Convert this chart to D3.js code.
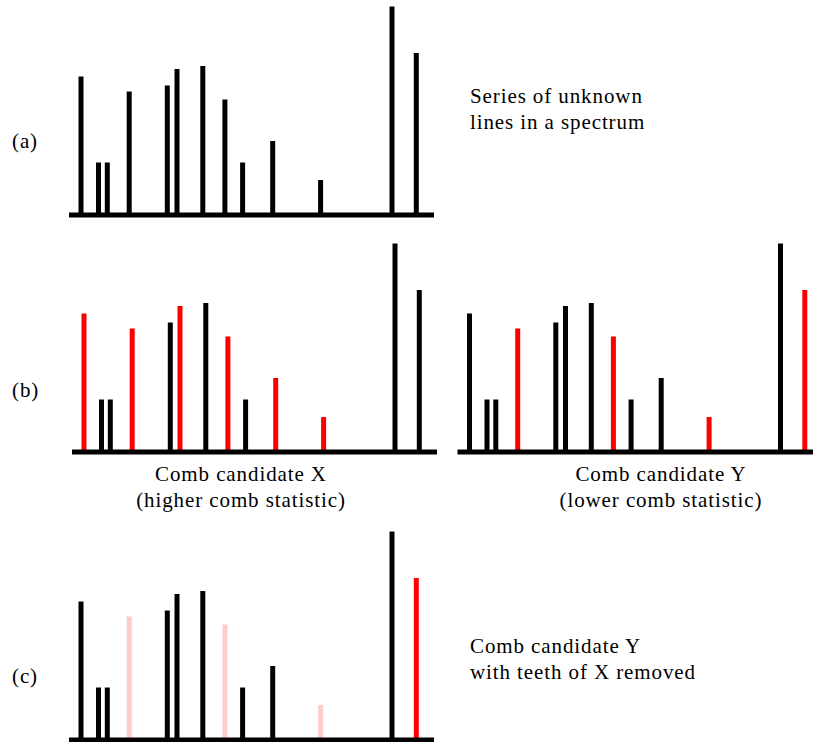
<!DOCTYPE html>
<html>
<head>
<meta charset="utf-8">
<script src="https://cdn.jsdelivr.net/npm/d3@7"></script>
<style>
  body { margin: 0; background: #fff; }
  svg text { font-size: 21px; letter-spacing: 0.9px; fill: #000; }
</style>
</head>
<body>
<div id="chart"></div>
<script>
// line positions along the spectrum (arbitrary units) and their heights
var linePos    = [12, 29.5, 38.3, 60.2, 98.3, 108, 133.8, 155.9, 173.6, 203.7, 251.6, 323, 347.3];
var lineHeight = [136, 50, 50, 121, 127, 143.5, 146.5, 113, 50, 71.5, 32.5, 206, 159.5];

// teeth of the two comb candidates (indices into the lines above)
var combX = [0, 3, 5, 7, 9, 10];
var combY = [3, 7, 10, 12];

var panelLabels = ["(a)", "(b)", "(c)"];
var textA = ["Series of unknown", "lines in a spectrum"];
var textBX = ["Comb candidate X", "(higher comb statistic)"];
var textBY = ["Comb candidate Y", "(lower comb statistic)"];
var textC = ["Comb candidate Y", "with teeth of X removed"];

var W = 813, H = 742;
var RED = "#ff0000", PINK = "#ffcccc", BLACK = "#000";
var FONT = "'Times New Roman', Times, Tinos, 'Liberation Serif', 'DejaVu Serif', FreeSerif, serif";

var svg = d3.select("#chart")
  .append("svg")
  .attr("width", W)
  .attr("height", H);

function colorA(i) { return BLACK; }
function colorX(i) { return combX.indexOf(i) >= 0 ? RED : BLACK; }
function colorY(i) { return combY.indexOf(i) >= 0 ? RED : BLACK; }
function colorC(i) {
  if (combY.indexOf(i) >= 0 && combX.indexOf(i) >= 0) return PINK;
  if (combY.indexOf(i) >= 0) return RED;
  return BLACK;
}

// one spectrum: vertical lines on a thick baseline
function drawSpectrum(x0, x1, base, colorFn) {
  var x = d3.scaleLinear().domain([0, 365]).range([x0, x1]);
  var y = d3.scaleLinear().domain([0, 210]).range([base, base - 210]);

  var g = svg.append("g");

  g.selectAll("line.peak")
    .data(linePos)
    .enter()
    .append("line")
      .attr("class", "peak")
      .attr("x1", function(d) { return x(d); })
      .attr("x2", function(d) { return x(d); })
      .attr("y1", y(0) + 2)
      .attr("y2", function(d, i) { return y(lineHeight[i]); })
      .attr("stroke", function(d, i) { return colorFn(i); })
      .attr("stroke-width", 5);

  g.append("line")
    .attr("x1", x(0))
    .attr("x2", x(365))
    .attr("y1", y(0) + 2.5)
    .attr("y2", y(0) + 2.5)
    .attr("stroke", BLACK)
    .attr("stroke-width", 5);
}

drawSpectrum(69, 434, 212.5, colorA);
drawSpectrum(72, 437, 449.5, colorX);
drawSpectrum(457.5, 822.5, 449.5, colorY);
drawSpectrum(69, 434, 737.5, colorC);

// panel letters
var labelY = [148, 397, 683];
svg.selectAll("text.plabel")
  .data(panelLabels)
  .enter()
  .append("text")
    .attr("class", "plabel")
    .attr("x", 12)
    .attr("y", function(d, i) { return labelY[i]; })
    .attr("font-family", FONT)
    .text(function(d) { return d; });

function addText(lines, x, y, anchor) {
  svg.append("g").selectAll("text")
    .data(lines)
    .enter()
    .append("text")
      .attr("x", x)
      .attr("y", function(d, i) { return y + i * 26; })
      .attr("text-anchor", anchor)
      .attr("font-family", FONT)
      .text(function(d) { return d; });
}

addText(textA, 470, 103, "start");
addText(textBX, 241, 481, "middle");
addText(textBY, 661, 481, "middle");
addText(textC, 470, 653, "start");
</script>
</body>
</html>
